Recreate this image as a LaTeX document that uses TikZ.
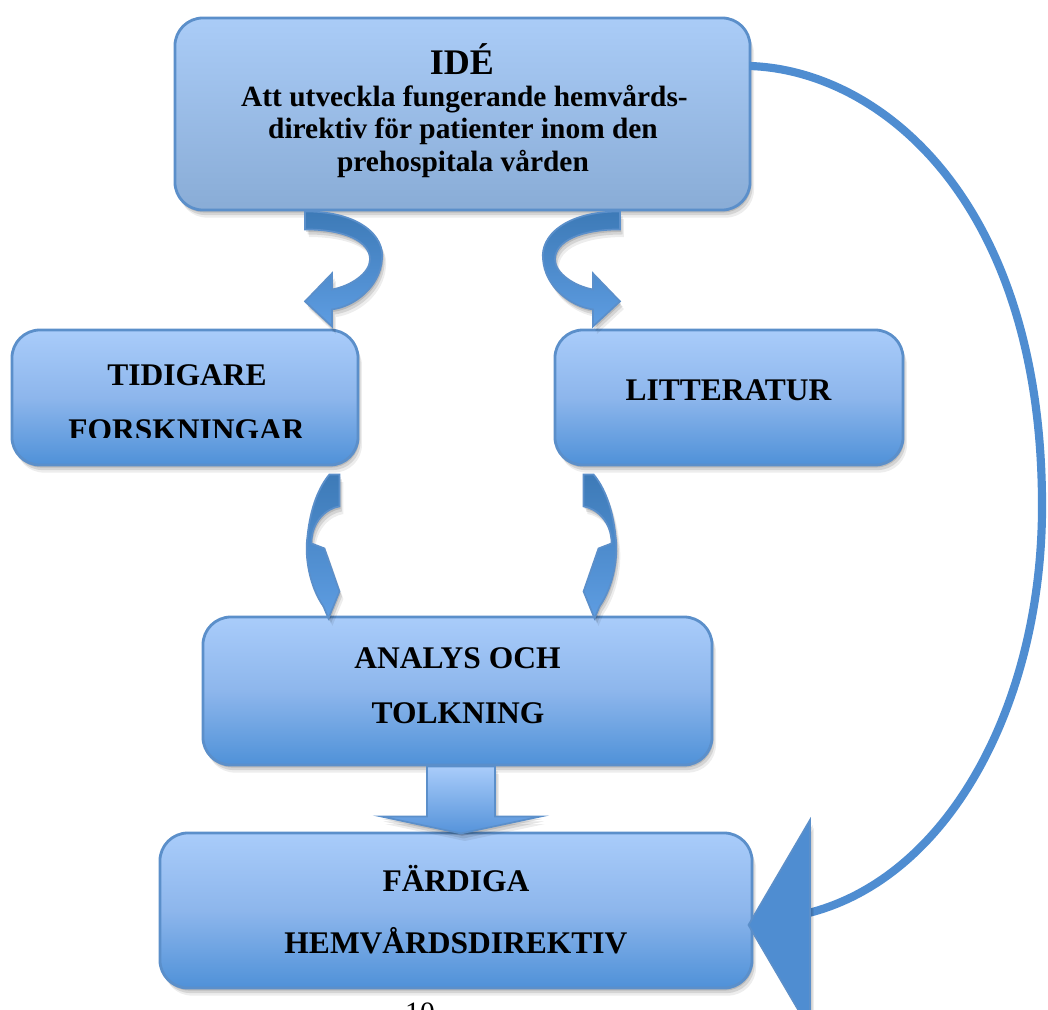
\documentclass[tikz,border=0pt]{standalone}
\usepackage{fontspec}
\setmainfont{Liberation Serif}
\usepackage{xcolor}
\usepackage{tikz}
\usetikzlibrary{
  positioning,
  calc,
  arrows.meta,
  shadows
}
\definecolor{boxtop}{HTML}{A9CCFA}
\definecolor{boxmid}{HTML}{8DB6EC}
\definecolor{boxbot}{HTML}{4F91D8}
\definecolor{idetop}{HTML}{AACCF7}
\definecolor{idebot}{HTML}{89ACD6}
\definecolor{boxline}{HTML}{5B8FCA}
\definecolor{turntop}{HTML}{3D7AB7}
\definecolor{turnbot}{HTML}{5E9DE2}
\definecolor{ringblue}{HTML}{4F8DD1}
\definecolor{downbot}{HTML}{5593DA}

\tikzset{
  softshadow/.style={
    drop shadow={shadow xshift=0.8pt, shadow yshift=-1.8pt, opacity=0.12, fill=black},
    drop shadow={shadow xshift=1.8pt, shadow yshift=-3.6pt, opacity=0.10, fill=black},
    drop shadow={shadow xshift=2.8pt, shadow yshift=-5.4pt, opacity=0.07, fill=black}
  },
  flowbox/.style={draw=boxline, line width=2pt, rounded corners=0.7cm, inner sep=0pt,
    top color=boxtop, bottom color=boxbot, middle color=boxmid, softshadow},
  ideshade/.style={top color=idetop, bottom color=idebot},
  boxtxt/.style={font=\fontsize{22.4}{27}\selectfont\bfseries, anchor=base, inner sep=0pt},
  idetxt/.style={font=\fontsize{25.6}{30}\selectfont\bfseries, anchor=base, inner sep=0pt},
  subtxt/.style={font=\fontsize{20.9}{24}\selectfont\bfseries, anchor=base, inner sep=0pt},
  pagetxt/.style={font=\fontsize{21}{25}\selectfont, anchor=base, inner sep=0pt},
  turnarrow/.style={draw=boxline, line width=1.2pt, top color=turntop, bottom color=turnbot, softshadow},
  downarrow/.style={draw=boxline, line width=1.2pt, top color=boxtop, bottom color=downbot, softshadow},
  ringline/.style={draw=ringblue, line width=5.8pt},
  ringhead/.style={draw=boxline, line width=1.2pt, fill=ringblue, softshadow}
}

\begin{document}
\begin{tikzpicture}[x=0.025cm, y=-0.025cm]
  \clip (0,0) rectangle (1048,1010);
  \fill[white] (0,0) rectangle (1048,1010);

  % Boxes
  \node[flowbox, ideshade, minimum width=14.375cm, minimum height=4.8cm] (ide) at (462.5,114) {};
  \node[flowbox, minimum width=8.65cm, minimum height=3.375cm] (tidig) at (185,397.5) {};
  \node[flowbox, minimum width=8.7cm, minimum height=3.375cm] (litt) at (729,397.5) {};
  \node[flowbox, minimum width=12.725cm, minimum height=3.7cm] (analys) at (457.5,691) {};
  \node[flowbox, minimum width=14.8cm, minimum height=3.875cm] (fardig) at (456,910.5) {};

  % Texts in the boxes
  \node[idetxt] (ideT) at (462,75) {IDÉ};
  \node[subtxt] (ide1) at (464.5,107) {Att utveckla fungerande hemvårds-};
  \node[subtxt] (ide2) at (463,138.5) {direktiv för patienter inom den};
  \node[subtxt] (ide3) at (463,172) {prehospitala vården};

  \node[boxtxt] (tidig1) at (187,386) {TIDIGARE};
  \begin{scope}
    \clip (0,0) rectangle (1048,438);
    \node[boxtxt] (tidig2) at (186.5,441) {FORSKNINGAR};
  \end{scope}

  \node[boxtxt] (litt1) at (728.5,400.5) {LITTERATUR};

  \node[boxtxt] (analys1) at (457.5,668.3) {ANALYS OCH};
  \node[boxtxt] (analys2) at (458,724) {TOLKNING};

  \node[boxtxt] (fardig1) at (456,891) {FÄRDIGA};
  \node[boxtxt] (fardig2) at (456,953) {HEMVÅRDSDIREKTIV};

  % Turn arrows from the idea box
  \begin{scope}[shift={(ide.south)}]
    \path[turnarrow] (-157.5,0) .. controls (-102.5,0) and (-77.5,25) .. (-80.5,48)
      .. controls (-82.5,75) and (-107.5,95) .. (-130.5,98) -- (-130.5,115) -- (-157.5,90)
      -- (-130.5,62) -- (-130.5,78) .. controls (-112.5,75) and (-92.5,62) .. (-92.5,48)
      .. controls (-92.5,30) and (-117.5,18) .. (-157.5,18) -- cycle;
  \end{scope}
  \begin{scope}[shift={(ide.south)}, xscale=-1]
    \path[turnarrow] (-157.5,0) .. controls (-102.5,0) and (-77.5,25) .. (-80.5,48)
      .. controls (-82.5,75) and (-107.5,95) .. (-130.5,98) -- (-130.5,115) -- (-157.5,90)
      -- (-130.5,62) -- (-130.5,78) .. controls (-112.5,75) and (-92.5,62) .. (-92.5,48)
      .. controls (-92.5,30) and (-117.5,18) .. (-157.5,18) -- cycle;
  \end{scope}

  % Turn arrows down to the analysis box
  \begin{scope}[shift={(tidig.south east)}]
    \path[turnarrow] (-30,8) -- (-20,8) -- (-20,40) .. controls (-33,42) and (-48,55) .. (-48,77)
      -- (-35,82) -- (-20,125) -- (-31,152) -- (-36,140)
      .. controls (-50,120) and (-55,90) .. (-52,70)
      .. controls (-49,40) and (-40,20) .. (-30,8) -- cycle;
  \end{scope}
  \begin{scope}[shift={($(litt.south west)+(10,0)$)}, xscale=-1]
    \path[turnarrow] (-30,8) -- (-20,8) -- (-20,40) .. controls (-33,42) and (-48,55) .. (-48,77)
      -- (-35,82) -- (-20,125) -- (-31,152) -- (-36,140)
      .. controls (-50,120) and (-55,90) .. (-52,70)
      .. controls (-49,40) and (-40,20) .. (-30,8) -- cycle;
  \end{scope}

  % Block arrow to the final box
  \begin{scope}[shift={(analys.south)}]
    \path[downarrow] (-30.5,0) -- (37.5,0) -- (37.5,50) -- (83.5,50) -- (3.5,67)
      -- (-76.5,50) -- (-30.5,50) -- cycle;
  \end{scope}

  % Long arc from the idea box
  \coordinate (ringstart) at ($(ide.east)+(-2,-48)$);
  \coordinate (ringtip) at ($(fardig.east)+(-5,14.5)$);
  \coordinate (ringend) at ($(ringtip)+(56,-11)$);
  \draw[ringline] (ringstart) .. controls (880,70) and (1040,200) .. (1042,500)
    .. controls (1044,700) and (950,880) .. (ringend);
  \path[ringhead] (ringtip) -- ($(ringtip)+(61.5,-105)$) -- ($(ringtip)+(61.5,105)$) -- cycle;

  % Page number
  \node[pagetxt] (pagenr) at (420,1022) {10};
\end{tikzpicture}
\end{document}
